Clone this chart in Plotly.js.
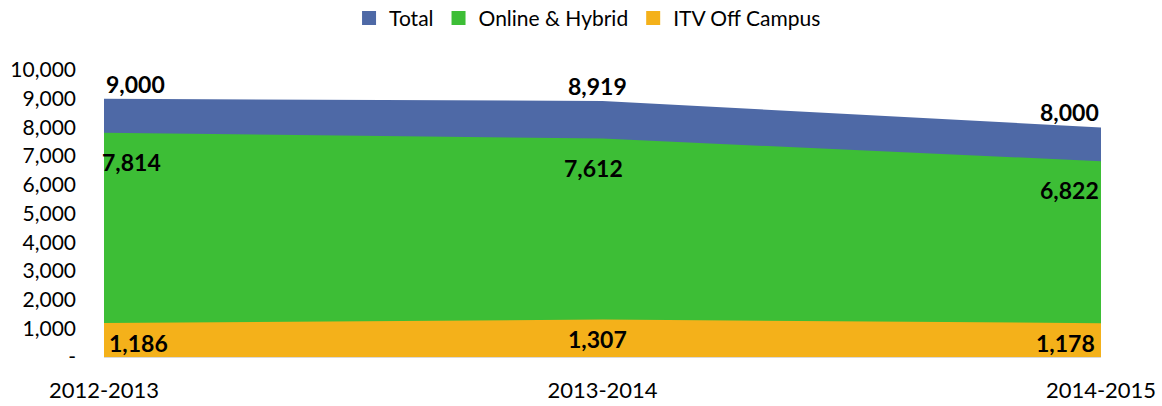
<!DOCTYPE html>
<html>
<head>
<meta charset="utf-8">
<script src="https://cdn.plot.ly/plotly-3.0.1.min.js"></script>
<style>html,body{margin:0;padding:0;background:#fff;}#chart{width:1162px;height:406px;}</style>
</head>
<body>
<div id="chart"></div>
<script>
const categories = ['2012-2013', '2013-2014', '2014-2015'];
const total = [9000, 8919, 8000];
const onlineHybrid = [7814, 7612, 6822];
const itvOffCampus = [1186, 1307, 1178];
const seriesNames = ['Total', 'Online & Hybrid', 'ITV Off Campus'];
const yTickVals = [0, 1000, 2000, 3000, 4000, 5000, 6000, 7000, 8000, 9000, 10000];
const yTickText = ['-', '1,000', '2,000', '3,000', '4,000', '5,000', '6,000', '7,000', '8,000', '9,000', '10,000'];

const FONT = 'Lato, "Open Sans", sans-serif';
const colorList = ['#4E69A6', '#3DBE36', '#F4B11A'];
const seriesData = [total, onlineHybrid, itvOffCampus];

const traces = [];
seriesData.forEach((y, k) => {
  traces.push({
    type: 'scatter', mode: 'none', name: seriesNames[k], x: categories, y: y,
    fill: 'tozeroy', fillcolor: colorList[k], line: {width: 0, color: colorList[k]},
    hoverinfo: 'skip', showlegend: false
  });
});
seriesData.forEach((y, k) => {
  traces.push({
    type: 'scatter', mode: 'markers', name: seriesNames[k], x: [null], y: [null],
    marker: {symbol: 'square', size: 14, color: colorList[k]}, showlegend: true, hoverinfo: 'skip'
  });
});

const anchors = ['left', 'center', 'right'];
const fmt = v => v.toLocaleString('en-US');
const annotations = [];
function addLabels(vals, yshift, xshifts) {
  vals.forEach((v, i) => {
    annotations.push({
      x: categories[i], y: v, xref: 'x', yref: 'y', text: '<b>' + fmt(v) + '</b>',
      showarrow: false, xanchor: anchors[i], yanchor: 'middle', yshift: yshift, xshift: xshifts[i],
      font: {family: FONT, size: 23, color: '#000'}
    });
  });
}
addLabels(total, 15, [0, -5, 0]);
addLabels(onlineHybrid, -29, [-4, -9, 0]);
addLabels(itvOffCampus, -20, [3, -5, -4]);

const layout = {
  width: 1162, height: 406,
  margin: {l: 104, r: 61, t: 70, b: 49, autoexpand: false},
  paper_bgcolor: '#fff', plot_bgcolor: '#fff',
  font: {family: FONT, color: '#000', size: 21},
  showlegend: true,
  legend: {orientation: 'h', x: 0.485, xanchor: 'center', y: 0.955, yanchor: 'middle', yref: 'container',
           font: {family: FONT, size: 21}, itemwidth: 30, tracegroupgap: 0},
  xaxis: {type: 'category', range: [0, 2], showgrid: false, zeroline: false,
          showline: true, linecolor: '#d9d9d9', linewidth: 1, ticks: '', ticklabelstandoff: 14,
          tickfont: {family: FONT, size: 22}},
  yaxis: {range: [0, 10000], tickvals: yTickVals, ticktext: yTickText, showgrid: false,
          zeroline: false, showline: false, ticks: '', ticklabelstandoff: 27,
          tickfont: {family: FONT, size: 21}},
  annotations: annotations
};
Plotly.newPlot('chart', traces, layout, {displayModeBar: false, staticPlot: true});
</script>
</body>
</html>
